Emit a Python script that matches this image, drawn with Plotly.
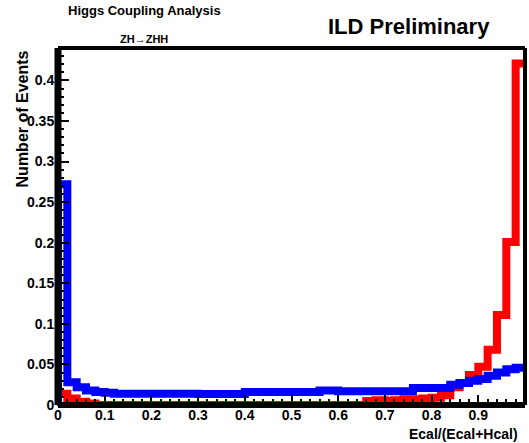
import numpy as np
import plotly.graph_objects as go

# 50 bins of width 0.02 over Ecal/(Ecal+Hcal) in [0, 1]
bin_edges = np.linspace(0.0, 1.0, 51)

# normalised event fractions per bin
blue_counts = [
    0.272, 0.028, 0.022, 0.018, 0.016, 0.015,
    0.014, 0.014, 0.014, 0.014, 0.014, 0.014, 0.014, 0.014, 0.014,
    0.0135, 0.0135, 0.0135, 0.0135, 0.0135,
    0.016, 0.016, 0.016, 0.016, 0.016, 0.016, 0.016, 0.016,
    0.018, 0.018,
    0.017, 0.017, 0.017, 0.017, 0.017, 0.017, 0.017, 0.017,
    0.021, 0.021, 0.021, 0.021,
    0.025, 0.027, 0.030, 0.032, 0.036, 0.040, 0.044, 0.046,
]
red_counts = [
    0.014, 0.008, 0.004, 0.002,
    0.0, 0.0, 0.0, 0.0, 0.0, 0.0, 0.0, 0.0, 0.0, 0.0,
    0.0, 0.0, 0.0, 0.0, 0.0, 0.0, 0.0, 0.0, 0.0, 0.0,
    0.0, 0.0, 0.0, 0.0, 0.0, 0.0, 0.0, 0.0, 0.0,
    0.005, 0.006, 0.005, 0.006, 0.007, 0.007, 0.008, 0.009,
    0.012, 0.022, 0.027, 0.037, 0.047, 0.068, 0.111, 0.201, 0.421,
]

y_tick_vals = [0, 0.05, 0.1, 0.15, 0.2, 0.25, 0.3, 0.35, 0.4]
y_tick_text = ["0", "0.05", "0.1", "0.15", "0.2", "0.25", "0.3", "0.35", "0.4"]
x_tick_vals = [0, 0.1, 0.2, 0.3, 0.4, 0.5, 0.6, 0.7, 0.8, 0.9, 1.0]
x_tick_text = ["0", "0.1", "0.2", "0.3", "0.4", "0.5", "0.6", "0.7", "0.8", "0.9", "1"]

FONT = "Liberation Sans, Arial, Helvetica, sans-serif"


def step_outline(counts):
    """Histogram outline as an 'hv' step path starting from the baseline."""
    xs = [bin_edges[0]] + list(bin_edges)
    ys = [0.0] + list(counts) + [counts[-1]]
    return xs, ys


fig = go.Figure()
for counts, colour in ((red_counts, "#ff0000"), (blue_counts, "#0000ff")):
    xs, ys = step_outline(counts)
    fig.add_trace(go.Scatter(
        x=xs, y=ys, mode="lines",
        line=dict(color=colour, width=8, shape="hv"),
        hoverinfo="skip", showlegend=False,
    ))

axis_common = dict(
    showgrid=False, zeroline=False,
    showline=True, linecolor="black", linewidth=1, mirror=False,
    ticks="inside", tickwidth=2, tickcolor="black",
    tickmode="array",
    tickfont=dict(size=14, family=FONT, weight="bold", color="black"),
    layer="above traces",
)

fig.update_layout(
    width=529, height=443, autosize=False,
    margin=dict(l=58, r=4, t=48, b=38),
    paper_bgcolor="white", plot_bgcolor="white",
    font=dict(family=FONT, color="black"),
    showlegend=False,
    xaxis=dict(
        range=[0, 1], tickvals=x_tick_vals, ticktext=x_tick_text, ticklen=10,
        ticklabelstandoff=-3,
        minor=dict(tickmode="linear", tick0=0, dtick=0.02, ticks="inside",
                   ticklen=6, tickwidth=2, tickcolor="black"),
        **axis_common,
    ),
    yaxis=dict(
        range=[0, 0.44], tickvals=y_tick_vals, ticktext=y_tick_text, ticklen=11,
        minor=dict(tickmode="linear", tick0=0, dtick=0.01, ticks="inside",
                   ticklen=6, tickwidth=2, tickcolor="black"),
        **axis_common,
    ),
)

# frame: heavy left/bottom axes, lighter top/right borders
frame = [
    (0, 0, 0, 1, 7), (0, 0, 1, 0, 6),
    (0, 1, 1, 1, 4), (1, 0, 1, 1, 4),
]
for x0, y0, x1, y1, w in frame:
    fig.add_shape(type="line", xref="paper", yref="paper",
                  x0=x0, y0=y0, x1=x1, y1=y1,
                  line=dict(color="black", width=w), layer="above")

notes = [
    ("Higgs Coupling Analysis", 0.186, 1.106, 13, "center", 0),
    ("ZH→ZHH", 0.184, 1.025, 11, "center", 0),
    ("ILD Preliminary", 0.752, 1.061, 22, "center", 0),
    ("Number of Events", -0.077, 0.80, 16, "center", -90),
    ("Ecal/(Ecal+Hcal)", 0.989, -0.082, 14, "right", 0),
]
for text, x, y, size, xanchor, angle in notes:
    fig.add_annotation(
        text=text, xref="paper", yref="paper", x=x, y=y,
        xanchor=xanchor, yanchor="middle", showarrow=False, textangle=angle,
        font=dict(size=size, family=FONT, color="black", weight="bold"),
    )

fig.write_html("out.html")
